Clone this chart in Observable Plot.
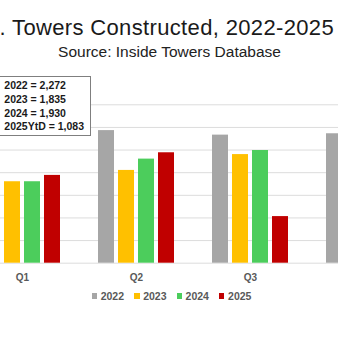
<!DOCTYPE html>
<html>
<head>
<meta charset="utf-8">
<script src="https://cdn.jsdelivr.net/npm/d3@7"></script>
<script src="https://cdn.jsdelivr.net/npm/@observablehq/plot@0.6"></script>
<style>
  html, body { margin: 0; padding: 0; width: 338px; height: 338px; overflow: hidden; background: #fff; position: relative; }
  #title { position: absolute; left: -0.5px; top: 17.4px; font: 22px 'Liberation Sans', Arial, sans-serif; line-height: 22px; color: #1a1a1a; white-space: nowrap; letter-spacing: 0.35px; }
  #subtitle { position: absolute; left: 0; width: 339px; top: 44.4px; text-align: center; font: 15.5px 'Liberation Sans', Arial, sans-serif; line-height: 15.5px; color: #222; white-space: nowrap; }
  #grid, #chart { position: absolute; left: -18.4px; top: 0; width: 421.5px; height: 338px; }
  #grid svg, #chart svg { max-width: none !important; width: 421.5px !important; height: 338px !important; }
  #box { position: absolute; left: -20px; top: 76px; width: 111px; height: 60px; box-sizing: border-box; border: 1px solid #7f7f7f; background: #fff; padding: 1.7px 0 0 23.3px; font: bold 10.5px 'Liberation Sans', Arial, sans-serif; line-height: 13.9px; color: #1a1a1a; white-space: nowrap; }
  #legend { position: absolute; left: 0; width: 343px; top: 290px; height: 12px; display: flex; justify-content: center; align-items: center; font: bold 10.5px 'Liberation Sans', Arial, sans-serif; line-height: 12px; color: #595959; }
  .item { display: flex; align-items: center; margin: 0 5px; }
  .sw { width: 5.5px; height: 5.5px; margin-right: 3.6px; }
</style>
</head>
<body>
<div id="title">. Towers Constructed, 2022-2025</div>
<div id="subtitle">Source: Inside Towers Database</div>
<div id="grid"></div>
<div id="chart"></div>
<div id="box"></div>
<div id="legend"></div>
<script>
const quarters = ["Q1", "Q2", "Q3", "Q4"];
const shownQuarterLabels = ["Q1", "Q2", "Q3"];
const years = ["2022", "2023", "2024", "2025"];
const v2022 = [548, 586, 566, 572];
const v2023 = [360, 410, 480, 585];
const v2024 = [360, 460, 498, 612];
const v2025 = [388, 488, 206, null];
const totalLabels = ["2022", "2023", "2024", "2025YtD"];
const totals = [2272, 1835, 1930, 1083];
const yTicks = [0, 100, 200, 300, 400, 500, 600, 700];
const colors = ["#a6a6a6", "#ffc000", "#4ccd5c", "#c00000"];

const series = [v2022, v2023, v2024, v2025];
const data = [];
years.forEach((yr, i) => {
  quarters.forEach((q, j) => {
    const v = series[i][j];
    if (v != null) data.push({quarter: q, year: yr, value: v});
  });
});

const common = {
  width: 421.5,
  height: 338,
  marginLeft: 0,
  marginRight: 0,
  marginTop: 104.3,
  marginBottom: 75.3,
  style: {fontFamily: "'Liberation Sans', Arial, sans-serif", fontSize: "10px", background: "transparent", overflow: "visible"},
  y: {domain: [0, 700], axis: null}
};

const grid = Plot.plot({
  ...common,
  x: {axis: null},
  marks: [
    Plot.ruleY(yTicks, {y: d => d, stroke: "#dcdcdc", strokeWidth: 1})
  ]
});
document.getElementById("grid").appendChild(grid);

const chart = Plot.plot({
  ...common,
  fx: {domain: quarters, paddingInner: 0.3155, paddingOuter: 0, label: null},
  x: {domain: years, paddingInner: 0.2, paddingOuter: 0, axis: null},
  color: {domain: years, range: colors},
  marks: [
    Plot.barY(data, {fx: "quarter", x: "year", y: "value", fill: "year"}),
    Plot.axisFx({anchor: "bottom", ticks: shownQuarterLabels, tickSize: 0, tickPadding: 10.5, fontWeight: "bold", fill: "#595959", fontSize: 10, label: null})
  ]
});
document.getElementById("chart").appendChild(chart);

const fmt = d3.format(",");
document.getElementById("box").innerHTML = totalLabels.map((l, i) => `<div>${l} = ${fmt(totals[i])}</div>`).join("");

document.getElementById("legend").innerHTML = years.map((y, i) =>
  `<div class="item"><div class="sw" style="background:${colors[i]}"></div><span>${y}</span></div>`).join("");
</script>
</body>
</html>
